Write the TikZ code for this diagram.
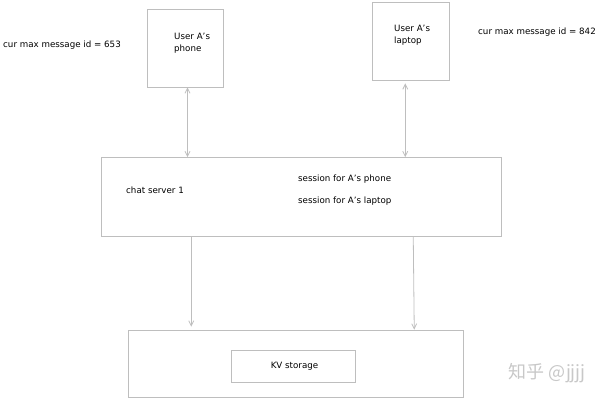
\documentclass[tikz,border=0pt]{standalone}
\usepackage{fontspec}
\setmainfont{DejaVu Sans}
\newfontfamily\cjkfont{Noto Sans CJK SC}
\usetikzlibrary{positioning}
\usetikzlibrary{arrows.meta}
\definecolor{boxgray}{HTML}{BEBEBE}
\definecolor{markgray}{HTML}{C8C8C8}
\tikzset{
  box/.style={draw=boxgray,line width=0.9pt,inner sep=0pt,fill=white},
  note/.style={anchor=west,inner sep=0pt,font=\fontsize{8.7}{12}\selectfont,text=black,align=left},
  link/.style={-{Straight Barb[length=5pt,width=5pt]},every edge/.append style={draw=boxgray,line width=0.8pt}},
  biglink/.style={{Straight Barb[length=5pt,width=5pt]}-{Straight Barb[length=5pt,width=5pt]},every edge/.append style={draw=boxgray,line width=0.8pt}}
}
\begin{document}
\begin{tikzpicture}[x=1pt,y=-1pt]
\useasboundingbox (0,0) rectangle (600,400);
  \node (phone) [box,minimum width=76pt,minimum height=78pt] at (185,48) {};
  \node (laptop) [box,minimum width=76.5pt,minimum height=77.5pt] at (410.75,41.25) {};
  \node (server) [box,minimum width=399.5pt,minimum height=78.5pt] at (301.25,196.75) {};
  \node (outer) [box,minimum width=335pt,minimum height=67pt] at (295.5,363.5) {};
  \node (kv) [box,minimum width=124pt,minimum height=31.5pt] at (293,366.25) {};

  \node (phonetext) [note] at (174,43) {User A's\\phone};
  \node (laptoptext) [note] at (394,35) {User A's\\laptop};
  \node (curleft) [note] at (3,45) {cur max message id = 653};
  \node (curright) [note] at (478,32) {cur max message id = 842};
  \node (servertext) [note] at (126,190.5) {chat server 1};
  \node (sessionphone) [note] at (298,179) {session for A's phone};
  \node (sessionlaptop) [note] at (298,201) {session for A's laptop};
  \node (kvtext) [note,anchor=center] at (294.5,366) {KV storage};
  \node (mark) [anchor=east,inner sep=0pt,text=markgray,font=\cjkfont\fontsize{18}{20}\selectfont] at (586,373) {知乎 @jjjj};

  \path[biglink]
    ([xshift=2.5pt]phone.south) edge ([xshift=2.5pt]phone.south |- server.north)
    ([xshift=-5.5pt,yshift=-3pt]laptop.south) edge ([xshift=-5.5pt]laptop.south |- server.north)
    ;
  \path[link]
    ([xshift=-110pt]server.south) edge ([xshift=-110pt,yshift=3pt]server.south |- outer.north)
    ([xshift=112pt]server.south) edge ([xshift=113pt]server.south |- outer.north)
    ;
\end{tikzpicture}
\end{document}
